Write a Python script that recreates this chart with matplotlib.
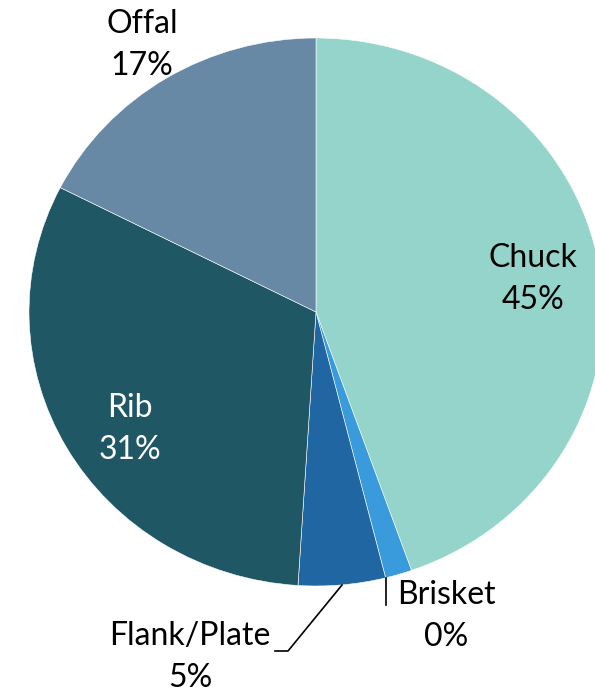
import matplotlib.pyplot as plt

cuts = ["Chuck", "Brisket", "Flank/Plate", "Rib", "Offal"]
shares = [44.6, 1.5, 4.9, 31.5, 17.5]
pct_text = ["45%", "0%", "5%", "31%", "17%"]
colors = ["#95D4CA", "#3A9BDC", "#1F66A2", "#1F5764", "#6889A5"]

W, H = 595, 693
fig = plt.figure(figsize=(W / 100, H / 100), dpi=100)

# pie is a bit wider than tall: x radius 287 px, y radius 274 px, centre (316, 312)
cx, cy, rx, ry = 316, 312, 287, 274
ax = fig.add_axes([(cx - rx) / W, (H - cy - ry) / H, 2 * rx / W, 2 * ry / H])
wedges, _ = ax.pie(shares, colors=colors, startangle=90, counterclock=False,
                   radius=1, wedgeprops=dict(edgecolor="white", linewidth=0.4))
ax.set_aspect("auto")
ax.set_xlim(-1, 1)
ax.set_ylim(-1, 1)
ax.axis("off")


def px(x, y):
    # pixel position -> data coords of the pie axes
    return (x - cx) / rx, (cy - y) / ry


font = dict(family=["Lato", "DejaVu Sans"], fontsize=23, ha="center", va="center",
            linespacing=1.5, clip_on=False)

# label positions (pixel centres of the two-line blocks)
label_pos = {
    "Chuck": (533, 279),
    "Brisket": (446, 616),
    "Flank/Plate": (190, 657),
    "Rib": (130, 429),
    "Offal": (142, 45),
}
for name, pct in zip(cuts, pct_text):
    x, y = px(*label_pos[name])
    col = "white" if name == "Rib" else "black"
    ax.text(x, y, f"{name}\n{pct}", color=col, **font)

# leader lines for the two small slices
bx = [px(386, 578), px(386, 605)]
ax.plot([p[0] for p in bx], [p[1] for p in bx], color="black", lw=1.2, clip_on=False)
fl = [px(342, 585), px(288, 651), px(275, 651)]
ax.plot([p[0] for p in fl], [p[1] for p in fl], color="black", lw=1.2, clip_on=False)

fig.savefig("out.png", dpi=100)
